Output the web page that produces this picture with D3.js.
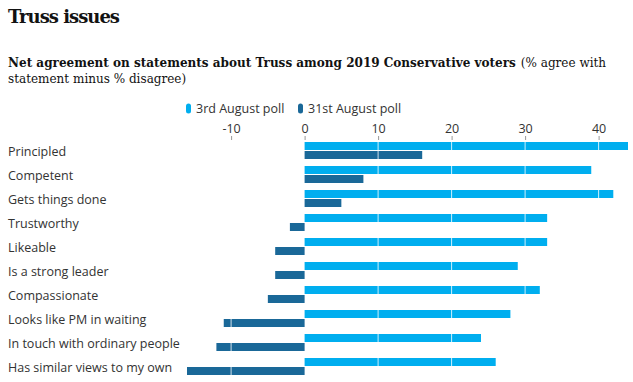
<!DOCTYPE html>
<html><head><meta charset="utf-8">
<script src="https://cdn.jsdelivr.net/npm/d3@7"></script>
<style>
body{margin:0;background:#fff;}
svg{display:block;}
</style></head>
<body>
<svg id="chart" width="633" height="382"></svg>
<script>
const categories = ["Principled","Competent","Gets things done","Trustworthy","Likeable","Is a strong leader","Compassionate","Looks like PM in waiting","In touch with ordinary people","Has similar views to my own"];
const aug3 = [44,39,42,33,33,29,32,28,24,26];
const aug31 = [16,8,5,-2,-4,-4,-5,-11,-12,-16];
const seriesNames = ["3rd August poll","31st August poll"];
const tickValues = [-10,0,10,20,30,40];
const colors = ["#00aeef","#1a6898"];

const svg = d3.select("#chart");
const serif = "'DejaVu Serif', serif";
const sans = "'Open Sans', 'Noto Sans', sans-serif";

svg.append("text").attr("x",8).attr("y",23).attr("font-family",serif).attr("font-weight","bold")
  .attr("font-size",18).attr("fill","#121212").attr("letter-spacing",-1).text("Truss issues");

// subtitle: bold part + regular part, font size chosen so the line fits
const fs0 = 14.5;
const subB = svg.append("text").attr("x",8).attr("y",67).attr("font-family",serif).attr("font-weight","bold")
  .attr("font-size",fs0).attr("fill","#121212").text("Net agreement on statements about Truss among 2019 Conservative voters");
const subR = svg.append("text").attr("y",67).attr("font-family",serif)
  .attr("font-size",fs0).attr("fill","#121212").text("(% agree with");
const wB = subB.node().getComputedTextLength();
const wR = subR.node().getComputedTextLength();
const gap = 5;
const k = Math.min(1, (599 - gap) / (wB + wR));
const fs = fs0 * k;
subB.attr("font-size", fs);
subR.attr("font-size", fs);
subR.attr("x", 8 + subB.node().getComputedTextLength() + gap);
svg.append("text").attr("x",8).attr("y",83).attr("font-family",serif).attr("font-size",fs).attr("fill","#121212")
  .text("statement minus % disagree)");

// legend
const legX = [186, 298];
seriesNames.forEach((n,i)=>{
  svg.append("rect").attr("x",legX[i]).attr("y",103.5).attr("width",5).attr("height",10).attr("rx",2.5).attr("fill",colors[i]);
  svg.append("text").attr("x",legX[i]+10).attr("y",113).attr("font-family",sans).attr("font-size",12.5).attr("fill","#333").text(n);
});

const x = d3.scaleLinear().domain([-16,44]).range([187,628]);
const y = d3.scaleBand().domain(categories).range([140,380]).paddingInner(0).paddingOuter(0);
const barH = 8;

// axis
const axis = d3.axisTop(x).tickValues(tickValues).tickSize(4).tickPadding(3).tickFormat(d => String(d));
const ag = svg.append("g").attr("transform","translate(0,140)").call(axis);
ag.select(".domain").remove();
ag.selectAll(".tick line").attr("stroke","#999");
ag.selectAll(".tick text").attr("font-family",sans).attr("font-size",12.5).attr("fill","#333");

// labels
svg.append("g").selectAll("text").data(categories).join("text")
  .attr("x",8).attr("y",d=>y(d)+16).attr("font-family",sans).attr("font-size",12.5).attr("fill","#333").text(d=>d);

// bars
const g = svg.append("g");
g.selectAll(".b1").data(categories).join("rect").attr("class","b1")
  .attr("x",(d,i)=>x(Math.min(0,aug3[i]))).attr("width",(d,i)=>Math.abs(x(aug3[i])-x(0)))
  .attr("y",d=>y(d)+2).attr("height",barH).attr("fill",colors[0]);
g.selectAll(".b2").data(categories).join("rect").attr("class","b2")
  .attr("x",(d,i)=>x(Math.min(0,aug31[i]))).attr("width",(d,i)=>Math.abs(x(aug31[i])-x(0)))
  .attr("y",d=>y(d)+2+barH+1).attr("height",barH).attr("fill",colors[1]);

// white gridlines over bars
svg.append("g").selectAll("line").data(tickValues.filter(v=>v!==0)).join("line")
  .attr("x1",d=>x(d)).attr("x2",d=>x(d)).attr("y1",140).attr("y2",380)
  .attr("stroke","#fff").attr("stroke-width",1).attr("stroke-opacity",0.8);
</script>
</body></html>
